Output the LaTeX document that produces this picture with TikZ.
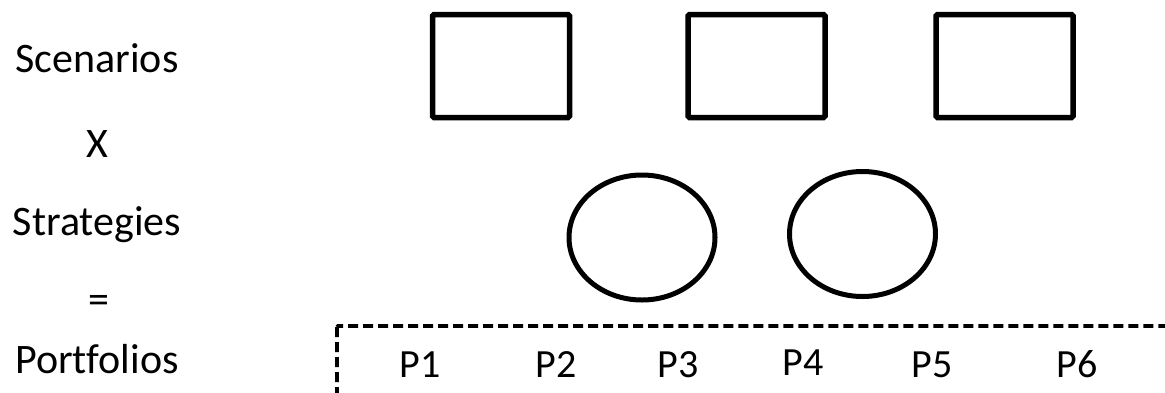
\documentclass[tikz,border=0pt]{standalone}
\usepackage{fontspec}
\setmainfont{Carlito}[Ligatures=NoCommon]
\usetikzlibrary{shapes.geometric}
\begin{document}
\begin{tikzpicture}[x=1pt,y=-1pt,
  lbl/.style={anchor=base,inner sep=0pt,font=\fontsize{42}{50}\selectfont},
  plbl/.style={anchor=base,inner sep=0pt,font=\fontsize{40}{48}\selectfont},
  scen/.style={draw,line width=5.5pt,rounded corners=1.5pt,minimum width=137pt,minimum height=103pt,inner sep=0pt},
  strat/.style={draw,ellipse,line width=5pt,minimum width=146pt,minimum height=125pt,inner sep=0pt},
  port/.style={draw,line width=3.8pt,dash pattern=on 10pt off 5pt,rounded corners=1pt}]
\useasboundingbox (0,0) rectangle (1165,392);
\node[lbl] (tScen) at (97,72) {Scenarios};
\node[lbl] (tX) at (97,157) {X};
\node[lbl] (tStrat) at (97,235) {Strategies};
\node[lbl] (tEq) at (99,313) {=};
\node[lbl] (tPort) at (97,373) {Portfolios};
\node[scen] (s1) at (501,66) {};
\node[scen] (s2) at (756.5,66) {};
\node[scen] (s3) at (1004.5,66) {};
\node[strat] (e1) at (642,237.5) {};
\node[strat] (e2) at (862.5,234) {};
\coordinate (pbTL) at (337,326);
\coordinate (pbBR) at (1200,420);
\draw[port] (pbTL) rectangle (pbBR);
\node[plbl] (p1) at (420,377) {P1};
\node[plbl] (p2) at (556,377) {P2};
\node[plbl] (p3) at (678,377) {P3};
\node[plbl] (p4) at (803,375) {P4};
\node[plbl] (p5) at (932,377) {P5};
\node[plbl] (p6) at (1077,377) {P6};
\end{tikzpicture}
\end{document}
